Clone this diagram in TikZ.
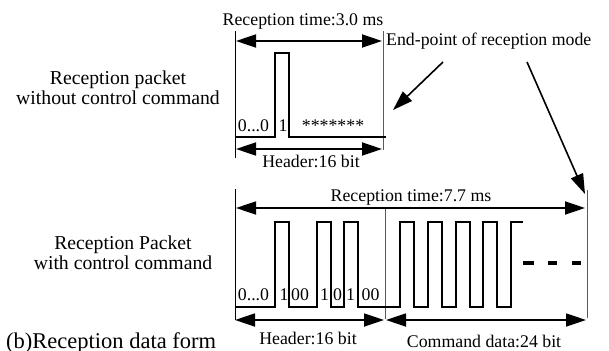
\documentclass[tikz,border=0pt]{standalone}
\usepackage{fontspec}
\setmainfont{Liberation Serif}
\usetikzlibrary{arrows.meta}
\begin{document}
\begin{tikzpicture}[x=1pt,y=-1pt,
  lbl/.style={font=\fontsize{17.8}{20}\selectfont, inner sep=0pt, anchor=base},
  side/.style={font=\fontsize{19.7}{20}\selectfont, inner sep=0pt, align=center, anchor=center},
  big/.style={font=\fontsize{22.5}{24}\selectfont, inner sep=0pt, anchor=base west},
  dim/.style={line width=1.8pt, {Triangle[length=20pt,width=13pt]}-{Triangle[length=20pt,width=13pt]}},
  pointer/.style={line width=1.6pt, -{Triangle[length=20pt,width=13pt]}},
  sig/.style={line width=1.7pt, line join=miter},
  bound/.style={line width=0.9pt},
  graybound/.style={line width=0.9pt, black!65},
  dsh/.style={line width=4pt},
]
\useasboundingbox (0,0) rectangle (609,350);

% ---------- top packet ----------
\node[side] (lab1) at (118,88) {Reception packet\\without control command};
\node[lbl] (t1) at (303,26) {Reception time:3.0 ms};
\node[lbl, anchor=base west] (ep) at (386,46) {End-point of reception mode};

\coordinate (L1t) at (235,31);  \coordinate (L1b) at (235,158);
\coordinate (R1t) at (383,31);  \coordinate (R1b) at (383,150);
\draw[bound] (L1t) -- (L1b);
\draw[graybound] (R1t) -- (R1b);

\coordinate (a1l) at (236,41); \coordinate (a1r) at (382,41);
\draw[dim] (a1l) -- (a1r);

\draw[sig] (235,137) -- (275,137) -- (275,53) -- (289,53) -- (289,137) -- (386,137);

\node[lbl] (z1) at (253.5,131) {0...0};
\node[lbl] (o1) at (283,131) {1};
\node[lbl] (st) at (333,131) {*******};

\coordinate (h1l) at (236,149); \coordinate (h1r) at (382,149);
\draw[dim] (h1l) -- (h1r);
\node[lbl] (hd1) at (311,167) {Header:16 bit};

% pointers
\coordinate (p1s) at (443,62); \coordinate (p1e) at (393,110);
\draw[pointer] (p1s) -- (p1e);
\coordinate (p2s) at (527,62); \coordinate (p2e) at (585,194);
\draw[pointer] (p2s) -- (p2e);

% ---------- bottom packet ----------
\node[side] (lab2) at (123,253) {Reception Packet\\with control command};
\node[lbl] (t2) at (411,201) {Reception time:7.7 ms};

\coordinate (L2t) at (235,189);  \coordinate (L2b) at (235,320);
\coordinate (M2t) at (385,207);  \coordinate (M2b) at (385,319);
\coordinate (R2t) at (587,190);  \coordinate (R2b) at (587,318);
\draw[bound] (L2t) -- (L2b);
\draw[graybound] (M2t) -- (M2b);
\draw[graybound] (R2t) -- (R2b);

\coordinate (a2l) at (236,208); \coordinate (a2r) at (585,208);
\draw[dim] (a2l) -- (a2r);

\draw[sig] (235,307) -- (275,307) -- (275,222) -- (289,222) -- (289,307)
  -- (317,307) -- (317,222) -- (331,222) -- (331,307)
  -- (344,307) -- (344,222) -- (358,222) -- (358,307)
  -- (400,307) -- (400,222) -- (414,222) -- (414,307)
  -- (428,307) -- (428,222) -- (442,222) -- (442,307)
  -- (456,307) -- (456,222) -- (470,222) -- (470,307)
  -- (483,307) -- (483,222) -- (497,222) -- (497,307)
  -- (511,307) -- (511,222) -- (523,222);

\draw[dsh] (523,263) -- (534,263);
\draw[dsh] (548,263) -- (557,263);
\draw[dsh] (572,263) -- (581,263);

\node[lbl] (z2) at (253.5,300) {0...0};
\node[lbl] (b1) at (284,300) {1};
\node[lbl] (b2) at (300,300) {00};
\node[lbl] (b3) at (324.5,300) {1};
\node[lbl] (b4) at (337.5,300) {0};
\node[lbl] (b5) at (350.5,300) {1};
\node[lbl] (b6) at (370.5,300) {00};

\coordinate (h2l) at (235,320); \coordinate (h2r) at (384,320);
\draw[dim] (h2l) -- (h2r);
\coordinate (c2l) at (386,320); \coordinate (c2r) at (586,320);
\draw[dim] (c2l) -- (c2r);
\node[lbl] (hd2) at (308,344) {Header:16 bit};
\node[lbl] (cd2) at (484,347) {Command data:24 bit};

\node[big] (cap) at (6,348) {(b)Reception data form};
\end{tikzpicture}
\end{document}
